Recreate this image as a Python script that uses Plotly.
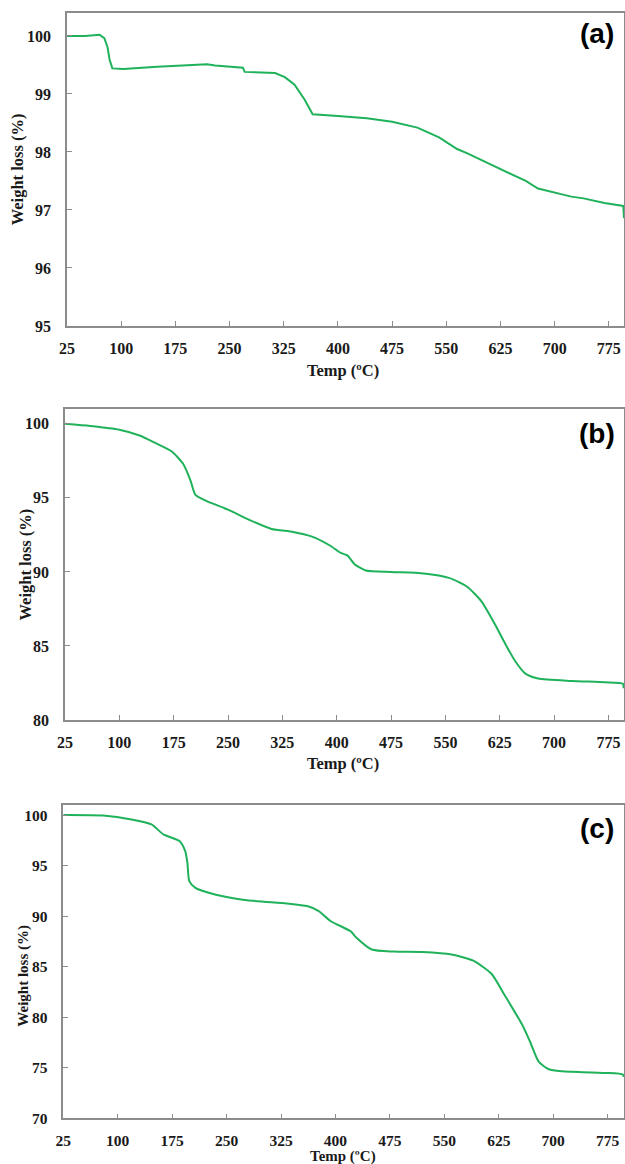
import plotly.graph_objects as go

# ---------------- data ----------------
temp_a = [25, 50, 70, 76.7, 81, 84, 87.8, 103, 150, 219, 230, 268.5, 271, 313, 326.5, 340, 354, 365,
          400, 440, 475, 510, 540, 565, 580, 600, 631, 660, 677, 700, 723, 740, 769, 795, 796]
wl_a = [100.0, 100.0, 100.02, 99.96, 99.81, 99.59, 99.44, 99.43, 99.47, 99.51, 99.49, 99.45, 99.38, 99.36,
        99.29, 99.16, 98.9, 98.65, 98.62, 98.58, 98.52, 98.42, 98.25, 98.05, 97.97, 97.85, 97.66, 97.5,
        97.37, 97.3, 97.23, 97.2, 97.12, 97.07, 96.86]

temp_b = [25, 60, 100, 128, 150, 172, 188, 198, 205, 220, 250, 280, 310, 340, 365, 390, 405, 415, 425,
          440, 475, 520, 555, 580, 600, 618, 632, 646, 660, 678, 724, 770, 795, 796]
wl_b = [100.0, 99.85, 99.6, 99.21, 98.7, 98.15, 97.3, 96.2, 95.2, 94.8, 94.2, 93.5, 92.9, 92.7, 92.4, 91.8,
        91.3, 91.1, 90.5, 90.1, 90.0, 89.9, 89.6, 89.0, 88.0, 86.5, 85.2, 84.0, 83.15, 82.8, 82.64, 82.55,
        82.45, 82.14]

temp_c = [25, 80, 119, 146.5, 163, 185, 193, 196, 198.6, 207, 234, 278, 333, 361, 377, 393.7, 421, 429,
          450, 480, 520, 560, 590, 615, 633, 657, 668, 680, 694, 712, 726, 772, 796, 797]
wl_c = [100.0, 99.95, 99.57, 99.08, 98.09, 97.43, 96.44, 95.29, 93.47, 92.8, 92.15, 91.58, 91.26, 91.0,
        90.5, 89.5, 88.5, 87.86, 86.7, 86.5, 86.45, 86.2, 85.6, 84.3, 82.2, 79.3, 77.6, 75.6, 74.85, 74.65,
        74.6, 74.49, 74.33, 74.1]

x_ticks = [25, 100, 175, 250, 325, 400, 475, 550, 625, 700, 775]
y_ticks_a = [95, 96, 97, 98, 99, 100]
y_ticks_b = [80, 85, 90, 95, 100]
y_ticks_c = [70, 75, 80, 85, 90, 95, 100]
panel_labels = ["(a)", "(b)", "(c)"]
x_title = "Temp (ºC)"
y_title = "Weight loss (%)"

# ---------------- figure ----------------
W, H = 625, 1164
GREEN = "#1fb25a"
AXC = "#8c8c8c"
SERIF = "Liberation Serif"
TXT = "#1a1a1a"


def py(px):
    return 1 - px / H


def pxx(px):
    return px / W


panels = [
    dict(t=temp_a, w=wl_a, yt=y_ticks_a, yr=[95, 100.4], top=12.7, bot=326, left=67, right=624,
         shape="linear", xr=[25, 796], xt_off=44, yt_x=17, yt_dy=0, yt_size=16.5, fs=16),
    dict(t=temp_b, w=wl_b, yt=y_ticks_b, yr=[80, 101], top=409, bot=720, left=65, right=624,
         shape="spline", xr=[25, 796.5], xt_off=43, yt_x=25, yt_dy=0, yt_size=16.5, fs=16),
    dict(t=temp_c, w=wl_c, yt=y_ticks_c, yr=[70, 101], top=805, bot=1118.3, left=63.3, right=624.3,
         shape="spline", xr=[25, 798], xt_off=38, yt_x=24, yt_dy=14, yt_size=15, fs=15.5),
]

fig = go.Figure()
annotations = []
layout = {}
for i, p in enumerate(panels):
    n = "" if i == 0 else str(i + 1)
    fig.add_trace(go.Scatter(x=p["t"], y=p["w"], mode="lines", xaxis="x" + n, yaxis="y" + n,
                             line=dict(color=GREEN, width=2, shape=p["shape"], smoothing=0.6),
                             showlegend=False, hoverinfo="skip"))
    common = dict(showline=True, linecolor=AXC, linewidth=1.5, mirror=True, showgrid=False,
                  zeroline=False, ticks="inside", ticklen=5, tickcolor=AXC, tickwidth=1,
                  automargin=False,
                  tickfont=dict(family=SERIF, size=p["fs"], color=TXT, weight="bold"))
    layout["xaxis" + n] = dict(common, domain=[pxx(p["left"]), pxx(p["right"])], range=p["xr"],
                               tickvals=x_ticks, anchor="y" + n, ticklabelstandoff=7)
    layout["yaxis" + n] = dict(common, domain=[py(p["bot"]), py(p["top"])], range=p["yr"],
                               tickvals=p["yt"], anchor="x" + n, ticklabelstandoff=11)
    # axis titles
    annotations.append(dict(text=x_title, xref="paper", yref="paper",
                            x=pxx(343), y=py(p["bot"] + p["xt_off"]), xanchor="center",
                            yanchor="middle", showarrow=False,
                            font=dict(family=SERIF, size=p["yt_size"], color=TXT, weight="bold")))
    annotations.append(dict(text=y_title, xref="paper", yref="paper",
                            x=pxx(p["yt_x"]), y=py((p["top"] + p["bot"]) / 2 + p["yt_dy"]),
                            xanchor="center", yanchor="middle", textangle=-90, showarrow=False,
                            font=dict(family=SERIF, size=p["yt_size"], color=TXT, weight="bold")))
    # panel label
    annotations.append(dict(text=panel_labels[i], xref="paper", yref="paper",
                            x=pxx(597), y=py(p["top"] + (21 if i == 0 else 24 if i == 1 else 23)),
                            xanchor="center", yanchor="middle", showarrow=False,
                            font=dict(family="Liberation Sans", size=28, color="#000000",
                                      weight="bold")))

fig.update_layout(width=W, height=H, margin=dict(l=0, r=0, t=0, b=0, pad=0),
                  paper_bgcolor="white", plot_bgcolor="white", template="none",
                  annotations=annotations, **layout)

fig.write_html("out.html", config={"displayModeBar": False},
               post_script="document.body.style.margin='0';document.body.style.overflow='hidden';")
